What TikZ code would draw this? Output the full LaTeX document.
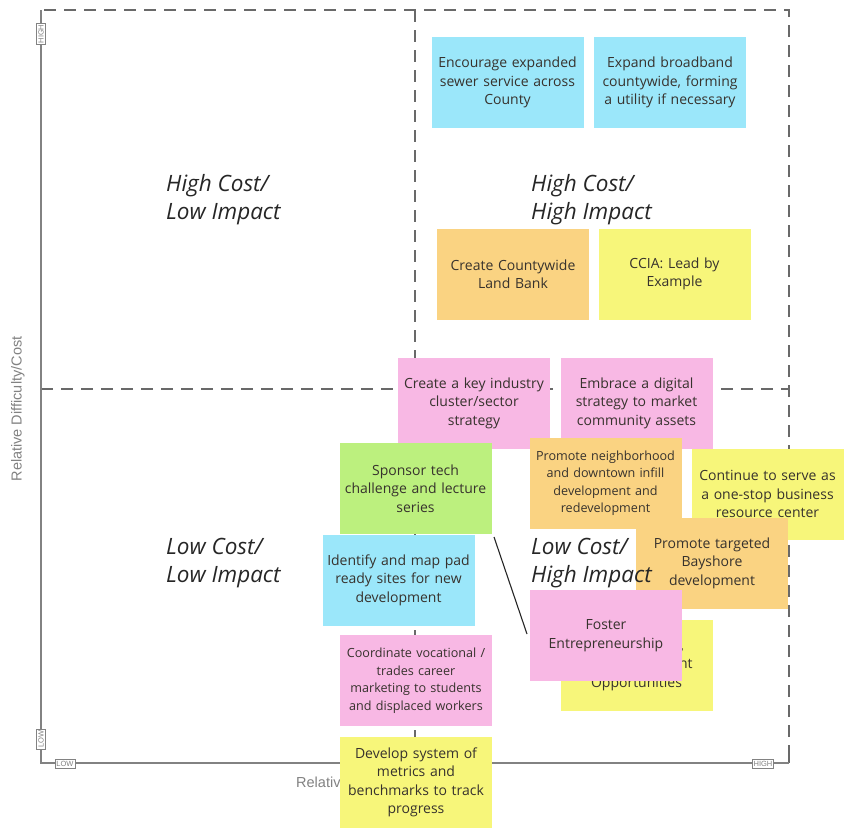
\documentclass[tikz,border=0pt]{standalone}
\usepackage{fontspec}
\setmainfont{Open Sans}
\newfontfamily\axisfont{Liberation Sans}
\definecolor{nblue}{RGB}{155,231,250}
\definecolor{norange}{RGB}{250,211,130}
\definecolor{nyellow}{RGB}{247,246,122}
\definecolor{npink}{RGB}{248,184,228}
\definecolor{ngreen}{RGB}{188,240,126}
\definecolor{ntext}{RGB}{55,50,45}
\definecolor{axisgray}{RGB}{130,130,130}
\definecolor{dashgray}{RGB}{105,105,105}
\begin{document}
\begin{tikzpicture}[x=1pt,y=-1pt,
  note/.style={minimum width=152pt, minimum height=91pt, text width=152pt, align=center,
    inner sep=0pt, font=\fontsize{14}{18.5}\selectfont, text=ntext},
  smallnote/.style={note, font=\fontsize{12.6}{17.5}\selectfont},
  quad/.style={anchor=north west, align=left, inner sep=0pt,
    font=\fontsize{22.5}{28}\selectfont\itshape, text=black!85},
  axisline/.style={draw=axisgray, line width=1.6pt},
  dashline/.style={draw=dashgray, line width=2.4pt, dash pattern=on 12pt off 8pt},
  tickbox/.style={draw=axisgray, fill=white, line width=0.8pt, inner sep=1.5pt,
    font=\axisfont\fontsize{7.5}{7.5}\selectfont, text=axisgray},
  axislabel/.style={font=\axisfont\fontsize{14.5}{16}\selectfont, text=axisgray, inner sep=0pt},
  link/.style={draw=black!85, line width=1.1pt}]
\fill[white] (0,0) rectangle (850,831);
\useasboundingbox (0,0) rectangle (850,831);

% frame and axes
\coordinate (o) at (41,763);
\coordinate (ytop) at (41,10);
\coordinate (xend) at (789,763);
\draw[dashline] (44,10) -- (789,10) -- (789,752);
\draw[dashgray, line width=2.4pt] (789,752) -- (789,763);
\draw[dashline] (415,10) -- (415,763);
\draw[dashline] (41,389) -- (789,389);
\draw[axisline] (ytop) -- (o) -- (xend);

\node[tickbox, rotate=90] (yhigh) at (41,34) {HIGH};
\node[tickbox, rotate=90] (ylow) at (41,739) {LOW};
\node[tickbox] (xlow) at (65,764) {LOW};
\node[tickbox] (xhigh) at (763,764) {HIGH};

\node[axislabel, rotate=90] (ylab) at (18,409) {Relative Difficulty/Cost};
\node[axislabel, anchor=west] (xlab) at (296,784) {Relative Impact};

% notes
\node[note, fill=nblue] (n1) at (507.5,82.5) {Encourage expanded\\sewer service across\\County};
\node[note, fill=nblue] (n2) at (670,82.5) {Expand broadband\\countywide, forming\\a utility if necessary};
\node[note, fill=norange] (n3) at (513,274) {Create Countywide\\Land Bank};
\node[note, fill=nyellow] (n4) at (674.5,274) {CCIA: Lead by\\Example};
\node[note, fill=npink] (n5) at (474,403) {Create a key industry\\cluster/sector\\strategy};
\node[note, fill=npink] (n6) at (636.5,403) {Embrace a digital\\strategy to market\\community assets};
\node[note, fill=ngreen] (n7) at (415.5,488.5) {Sponsor tech\\challenge and lecture\\series};
\node[smallnote, fill=norange] (n8) at (605.5,483) {Promote neighborhood\\and downtown infill\\development and\\redevelopment};
\node[note, fill=nyellow] (n9) at (767.5,494) {Continue to serve as\\a one-stop business\\resource center};
\node[note, fill=norange] (n10) at (712,563) {Promote targeted\\Bayshore\\development};
\node[note, fill=nblue] (n11) at (398.5,580) {Identify and map pad\\ready sites for new\\development};
\node[note, fill=nyellow] (n12) at (636.5,665) {Retain Quality,\\and Employment\\Opportunities};
\node[note, fill=npink] (n13) at (606,635.5) {Foster\\Entrepreneurship};
\node[smallnote, fill=npink] (n14) at (416,680.5) {Coordinate vocational /\\trades career\\marketing to students\\and displaced workers};
\node[note, fill=nyellow] (n15) at (416,782.5) {Develop system of\\metrics and\\benchmarks to track\\progress};

% connector
\coordinate (c1) at (494,537);
\coordinate (c2) at (527,634);
\draw[link] (c1) -- (c2);

% quadrant labels
\node[quad] (q1) at (166,174) {High Cost/\\Low Impact};
\node[quad] (q2) at (531,174) {High Cost/\\High Impact};
\node[quad] (q3) at (166,538) {Low Cost/\\Low Impact};
\node[quad] (q4) at (531,538) {Low Cost/\\High Impact};
\end{tikzpicture}
\end{document}
